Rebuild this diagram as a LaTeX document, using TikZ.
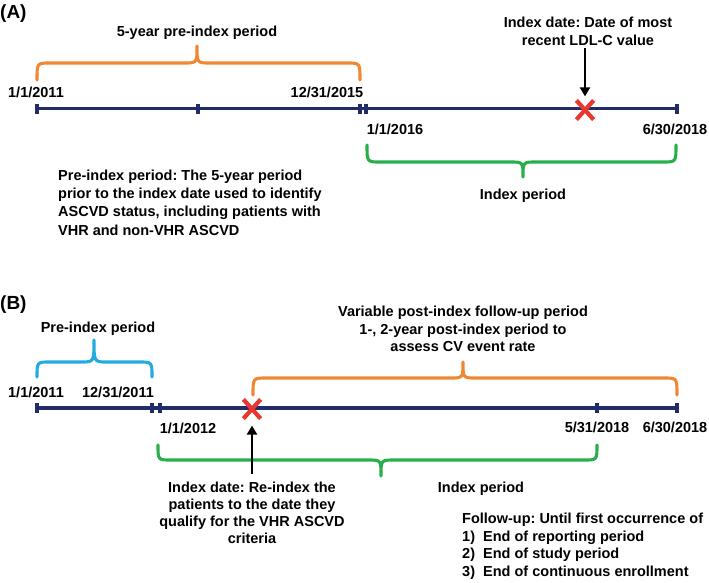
\documentclass[tikz,border=0pt]{standalone}
\usepackage{fontspec}
\setmainfont{Liberation Sans}
\usetikzlibrary{shapes.misc,arrows.meta}
\definecolor{navy}{RGB}{33,45,107}
\definecolor{bracOrange}{RGB}{240,135,50}
\definecolor{bracGreen}{RGB}{40,175,75}
\definecolor{bracBlue}{RGB}{35,170,225}
\definecolor{crossRed}{RGB}{232,55,45}
\newcommand{\drawBrace}[7]{%
  \draw[bracepen,#1] (#2,#4) .. controls (#2,#5) .. (#2+13,#5) -- (#7-13,#5)
    .. controls (#7,#5) .. (#7,#6) .. controls (#7,#5) .. (#7+13,#5)
    -- (#3-13,#5) .. controls (#3,#5) .. (#3,#4);}
\newcommand{\tlTick}[2]{\draw[tline] (#1,#2-5) -- (#1,#2+5);}
\frenchspacing
\begin{document}
\begin{tikzpicture}[x=1pt,y=-1pt,
  txt/.style={font=\fontsize{14.5}{17.5}\selectfont\bfseries, inner sep=0pt, text height=10.4pt, text depth=0pt},
  mltxt/.style={font=\fontsize{14.5}{17.5}\selectfont\bfseries, inner sep=0pt, align=center, anchor=north},
  paneltxt/.style={font=\fontsize{19}{22}\selectfont\bfseries, inner sep=0pt, text height=13.6pt, text depth=0pt, anchor=west},
  tline/.style={draw=navy, line width=3.1pt},
  bracepen/.style={line width=3.1pt, line cap=round, line join=round},
  xmark/.style={cross out, draw=crossRed, line width=4.2pt, minimum width=13pt, minimum height=15pt, inner sep=0pt},
  arr/.style={draw=black, line width=2.2pt, -{Triangle[length=9pt,width=10pt]}}]
\useasboundingbox (0,0) rectangle (709,582);

% ---------------- Panel A ----------------
\node[paneltxt] (labA) at (0,12) {(A)};
\node[txt] (titleA) at (197,31) {5-year pre-index period};
\drawBrace{bracOrange}{37}{360}{80}{63}{46}{197}
\node[txt] (dA1) at (36,92) {1/1/2011};
\node[txt] (dA2) at (327,92) {12/31/2015};

\coordinate (tA0) at (37,108.5);
\coordinate (tAE) at (677,108.5);
\draw[tline] (tA0) -- (tAE);
\tlTick{37}{108.5}
\tlTick{198}{108.5}
\tlTick{360}{108.5}
\tlTick{366}{108.5}
\tlTick{677}{108.5}

\node[xmark] (xA) at (585,110) {};
\node[mltxt] (idxA) at (588,16.8) {Index date: Date of most\\recent LDL-C value};
\draw[arr] ([yshift=-3pt]idxA.south -| xA) -- ([yshift=4pt]xA.north);

\node[txt] (dA3) at (395,129) {1/1/2016};
\node[txt] (dA4) at (675,129) {6/30/2018};
\drawBrace{bracGreen}{367}{676}{145}{162}{177}{523}
\node[txt] (ipA) at (523,194) {Index period};

\node[font=\fontsize{14.5}{18.2}\selectfont\bfseries, inner sep=0pt, align=left, anchor=north west] (paraA) at (58,169.8)
  {Pre-index period: The 5-year period\\prior to the index date used to identify\\ASCVD status, including patients with\\VHR and non-VHR ASCVD};

% ---------------- Panel B ----------------
\node[paneltxt] (labB) at (0,303) {(B)};
\node[txt] (preB) at (98,327) {Pre-index period};
\drawBrace{bracBlue}{37}{152}{377}{362}{340}{94}
\node[txt] (dB1) at (36,392) {1/1/2011};
\node[txt] (dB2) at (118,392) {12/31/2011};

\node[mltxt] (varB) at (463,305.8) {Variable post-index follow-up period\\1-, 2-year post-index period to\\assess CV event rate};
\drawBrace{bracOrange}{253}{677}{395}{378}{362}{463}

\coordinate (tB0) at (37,408);
\coordinate (tBE) at (677,408);
\draw[tline] (tB0) -- (tBE);
\tlTick{37}{408}
\tlTick{152}{408}
\tlTick{160}{408}
\tlTick{597}{408}
\tlTick{677}{408}

\node[xmark] (xB) at (252,409) {};
\node[txt] (dB3) at (188,428) {1/1/2012};
\node[txt] (dB4) at (597,427) {5/31/2018};
\node[txt] (dB5) at (675,427) {6/30/2018};

\drawBrace{bracGreen}{158}{597}{445}{460}{476}{381}

\node[font=\fontsize{14.5}{17}\selectfont\bfseries, inner sep=0pt, align=center, anchor=north] (idxB) at (252,481.8)
  {Index date: Re-index the\\patients to the date they\\qualify for the VHR ASCVD\\criteria};
\draw[arr] ([yshift=8pt]idxB.north -| xB) -- ([yshift=-7pt]xB.south);
\node[txt] (ipB) at (481,487) {Index period};

\node[font=\fontsize{14.5}{17.7}\selectfont\bfseries, inner sep=0pt, align=left, anchor=north west] (fuB) at (462,512.8)
  {Follow-up: Until first occurrence of\\
   \makebox[21pt][l]{1)}End of reporting period\\
   \makebox[21pt][l]{2)}End of study period\\
   \makebox[21pt][l]{3)}End of continuous enrollment};
\end{tikzpicture}
\end{document}
